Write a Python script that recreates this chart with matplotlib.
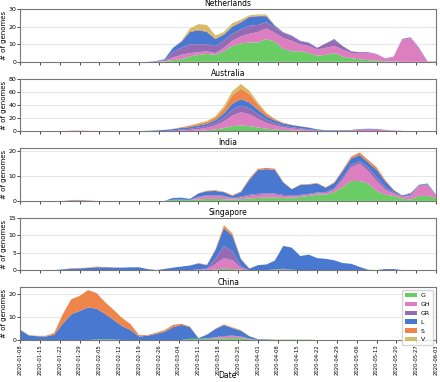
import numpy as np
import pandas as pd
import matplotlib
matplotlib.use('Agg')
import matplotlib.pyplot as plt
import matplotlib.dates as mdates

# one value every 3 days, 2020-01-08 .. 2020-06-03
dates = pd.date_range('2020-01-08', periods=50, freq='3D')
clades = ['G', 'GH', 'GR', 'L', 'S', 'V']
colores = ['#6acc64', '#dc7ec0', '#956cb4', '#4878d0', '#ee854a', '#d5bb67']

# Netherlands
nl_G = [0] * 17 + [0.3, 1, 1.5, 3, 4, 4.5, 4, 6, 9, 10.5, 11, 11, 13, 11.5, 7.5, 6, 6, 5, 3.5, 4, 5, 3, 2, 1.5, 1, 0.7, 0.3, 0.2] + [0] * 5
nl_GH = [0] * 17 + [0.3, 1.5, 2.5, 2, 1.5, 1.5, 1, 2, 3, 4, 5, 6, 6, 5, 6, 6, 4, 4, 3.5, 4, 4, 4, 3, 3.5, 4, 3.5, 1.5, 2.5, 12.5, 13.5, 7.5, 0.2, 0.2]
nl_GR = [0] * 16 + [0.3, 0.5, 3, 4, 5, 4.5, 4, 4, 4, 4, 4, 4.5, 4, 3.5, 3, 3, 2.7, 1.7, 1.7, 1, 2.5, 3.5, 2, 1, 0.5, 0.5, 0.3, 0.2, 0.3, 0.5, 0.5, 0.5, 0.1, 0.1]
nl_L = [0] * 16 + [0.2, 0.4, 2.5, 3.5, 7, 8, 7, 4, 3.5, 4, 4, 5, 5, 3.5, 1, 0.3, 0.3, 0.3, 0.3, 0, 0, 0.5] + [0] * 12
nl_S = [0] * 19 + [0.2, 0.5, 0.5, 0.5, 0.3, 0.3, 0.5, 0.5, 0.3, 0.3, 0.3, 0.2] + [0] * 19
nl_V = [0] * 19 + [0.3, 1.5, 3, 3.5, 1.7, 1.2, 1.5, 1, 0.7, 0.7, 0.7, 0.3, 0.2] + [0] * 18

# Australia
au_G = [0] * 17 + [0.2, 0, 0.3, 0.5, 1, 1.5, 3, 5, 8, 9, 8, 6, 4, 3, 2, 1.5, 1, 0.7, 0.5, 0.3, 0, 0.2, 0, 0.3, 0.3, 0.3] + [0] * 7
au_GH = [0] * 18 + [0.5, 1, 1.5, 2.5, 4, 6, 10, 16, 20, 18, 13, 9, 6, 4, 3, 2, 1.5, 0.5, 0.5, 0.7, 0.8, 1.2, 2, 2.2, 2, 1.5, 0.8, 0.5, 0.2, 0, 0, 0]
au_GR = [0] * 6 + [0.2, 0.3, 0.2, 0, 0, 0, 0, 0, 0, 0, 0.3, 0.5, 1, 1.5, 2, 2.5, 3, 4, 6, 9, 10, 9, 7, 5, 3.5, 2.5, 2, 1.5, 1, 0.5, 0.3, 0.3, 0.4, 0.5, 0.8, 1, 1, 0.5, 0.3, 0] + [0] * 4
au_L = [0] * 5 + [0.2, 0.5, 0.5, 0.3, 0.2, 0.2, 0, 0, 0.2, 0.5, 0.8, 1, 1.5, 2, 2.5, 2.5, 3, 3, 4, 6, 9, 10, 9, 7, 5, 4, 3.5, 3, 3, 2.5, 1.5, 0.7, 0.7, 0.5, 0.5, 0.5, 0.5, 0.4, 0.3, 0.2, 0.2] + [0] * 4
au_S = [0] * 6 + [0.3, 0.3, 0.3, 0.3, 0.2] + [0] * 7 + [0.3, 1, 2, 2.5, 3, 4, 7, 13, 16, 13, 8, 4, 2, 1, 0.5, 0.3, 0.2] + [0] * 15
au_V = [0] * 20 + [0.5, 1, 1.5, 2, 4, 6, 7, 5, 3, 1.5, 0.5, 0.3] + [0] * 18

# India
in_G = [0] * 18 + [0.5, 0.5, 0.4, 0.6, 0.8, 0.8, 0.7, 0.5, 0.7, 1, 1.2, 1.3, 1.3, 1.2, 1.3, 1.5, 2, 2.5, 2.5, 3.5, 5.5, 8, 8, 7, 4, 2.5, 2, 1, 0.5, 2, 2, 1.2]
in_GH = [0] * 21 + [0.8, 1.2, 1.2, 1, 0.5, 0.7, 1, 1.2, 1.3, 1.2, 0.8, 0.6, 0.6, 0.5, 0.6, 0.6, 1, 3, 5.5, 7, 5, 4, 2, 1, 0.6, 1.5, 4, 4.3, 0.8]
in_GR = [0] * 21 + [0.2, 0.3, 0.3, 0.3, 0.2, 0.3, 0.5, 0.5, 0.5, 0.5, 0.4, 0.3, 0.3, 0.3, 0.3, 0.4, 0.5, 1, 1, 1, 1.5, 1.5, 1, 0.5, 0.3, 0.3, 0.3, 0.4, 0.3]
in_L = [0] * 6 + [0.2, 0.2, 0.1] + [0] * 9 + [0.7, 0.8, 0.4, 1.4, 1.6, 1.7, 1.5, 0.9, 1.8, 6, 9.5, 9.7, 9.5, 5, 2.5, 4, 3.8, 3.6, 1.8, 2.2, 2.5, 2.5, 2.5, 2, 3, 2.5, 0.8, 0.3, 0.7, 0.2, 0.3, 0.2]
in_S = [0] * 6 + [0.1, 0.2, 0.1] + [0] * 12 + [0.1, 0.2, 0.3, 0.2, 0.2, 0.3, 0.5, 0.5, 0.5, 0.5, 0.2, 0.1, 0.2, 0.2, 0.2, 0.2, 0.3, 0.5, 0.8, 1, 1, 1, 0.5, 0.2, 0, 0.2, 0, 0, 0]
in_V = [0] * 50

# Singapore
sg_G = [0] * 23 + [0.3, 0.5, 0.4, 0.2, 0, 0, 0.1, 0.3, 0.3, 0.2, 0.1, 0, 0, 0, 0.1] + [0] * 12
sg_GH = [0] * 21 + [0.2, 0.3, 1.5, 3, 2.5, 0.5] + [0] * 23
sg_GR = [0] * 21 + [0.2, 0.2, 1.5, 3.5, 2.5, 0.5, 0, 0, 0, 0, 0.2] + [0] * 18
sg_L = [0] * 4 + [0.1, 0.3, 0.5, 0.6, 0.7, 0.9, 0.9, 0.8, 0.8, 0.9, 0.9, 0.4, 0.1, 0.4, 0.8, 1.1, 1.4, 1.6, 1, 2.5, 5, 4.5, 2, 0.5, 1.5, 1.6, 2.5, 6.5, 6.3, 4, 4.5, 3.5, 3.3, 2.8, 2.1, 1.9, 1, 0.2, 0.1, 0.4, 0.4, 0.1] + [0] * 4
sg_S = [0] * 6 + [0.1, 0.1, 0.1, 0.2, 0.1, 0.1] + [0] * 9 + [0.1, 0.1, 0.2, 0.7, 0.5, 0.2, 0.1] + [0] * 22
sg_V = [0] * 24 + [0.3, 0.3] + [0] * 24

# China
cn_G = [0] * 9 + [0.2, 0.3, 0.2] + [0] * 8 + [0.5, 0.5, 0.4, 0.5, 0.7, 0.8, 0.8, 0.3, 0, 0, 0.1, 0.15, 0.15, 0.15, 0.15] + [0] * 15
cn_GH = [0] * 22 + [0.2, 0.5, 0.7, 0.8, 0.5, 0.2] + [0] * 22
cn_GR = [0] * 22 + [0.1, 0.2, 0.3, 0.3, 0.2, 0.1, 0.2, 0.2, 0.05] + [0] * 19
cn_L = [4.3, 2, 1.6, 1.5, 2.2, 7, 11, 12.5, 14, 13.3, 11, 8.5, 6, 4.3, 1.5, 1.8, 2.6, 3.5, 5.5, 6.5, 5, 0.3, 1.6, 3.5, 4.7, 3.2, 2.5, 1, 0.2, 0.1] + [0] * 20
cn_S = [0.2, 0.1, 0.2, 0.3, 0.8, 4, 6.5, 6.5, 7.5, 6.7, 5, 4.3, 3.5, 2.5, 0.6, 0.3, 0.5, 0.7, 1, 0.5, 0.3, 0, 0, 0.2, 0.3, 0.3, 0.2, 0.1] + [0] * 22
cn_V = [0] * 24 + [0.1, 0.1, 0.1] + [0] * 23

paises = [
    ('Netherlands', [nl_G, nl_GH, nl_GR, nl_L, nl_S, nl_V], 30),
    ('Australia', [au_G, au_GH, au_GR, au_L, au_S, au_V], 80),
    ('India', [in_G, in_GH, in_GR, in_L, in_S, in_V], 21.2),
    ('Singapore', [sg_G, sg_GH, sg_GR, sg_L, sg_S, sg_V], 15),
    ('China', [cn_G, cn_GH, cn_GR, cn_L, cn_S, cn_V], 22.7),
]

fig, axes = plt.subplots(5, 1, figsize=(4.4, 3.82), dpi=100, sharex=True)
fig.subplots_adjust(left=0.046, right=0.991, top=0.976, bottom=0.11, hspace=0.32)

for ax, (nombre, series, tope) in zip(axes, paises):
    ax.stackplot(dates, *series, colors=colores, labels=clades, linewidth=0)
    ax.set_ylim(0, tope)
    ax.set_title(nombre, fontsize=5.5, pad=2)
    ax.set_ylabel('# of genomes', fontsize=5, labelpad=1)
    ax.grid(axis='y', color='#e3e3e3', linewidth=0.6)
    ax.set_axisbelow(True)
    ax.tick_params(labelsize=4.5, length=2, width=0.5, pad=1)
    for s in ax.spines.values():
        s.set_color('#777777')
        s.set_linewidth(0.8)

axes[-1].set_xlim(dates[0], pd.Timestamp('2020-06-03'))
axes[-1].set_xticks(pd.date_range('2020-01-08', '2020-06-03', freq='7D'))
axes[-1].xaxis.set_major_formatter(mdates.DateFormatter('%Y-%m-%d'))
axes[-1].tick_params(axis='x', labelsize=3.8)
plt.setp(axes[-1].get_xticklabels(), rotation=90)
# x label placed by hand so it stays inside the small canvas
fig.text(0.518, 0.004, 'Date', ha='center', va='bottom', fontsize=5.5)
axes[-1].legend(loc='upper right', fontsize=4.5, handlelength=2.0, labelspacing=0.55,
                borderpad=0.4, handletextpad=0.6)

plt.savefig('out.png', dpi=100)
